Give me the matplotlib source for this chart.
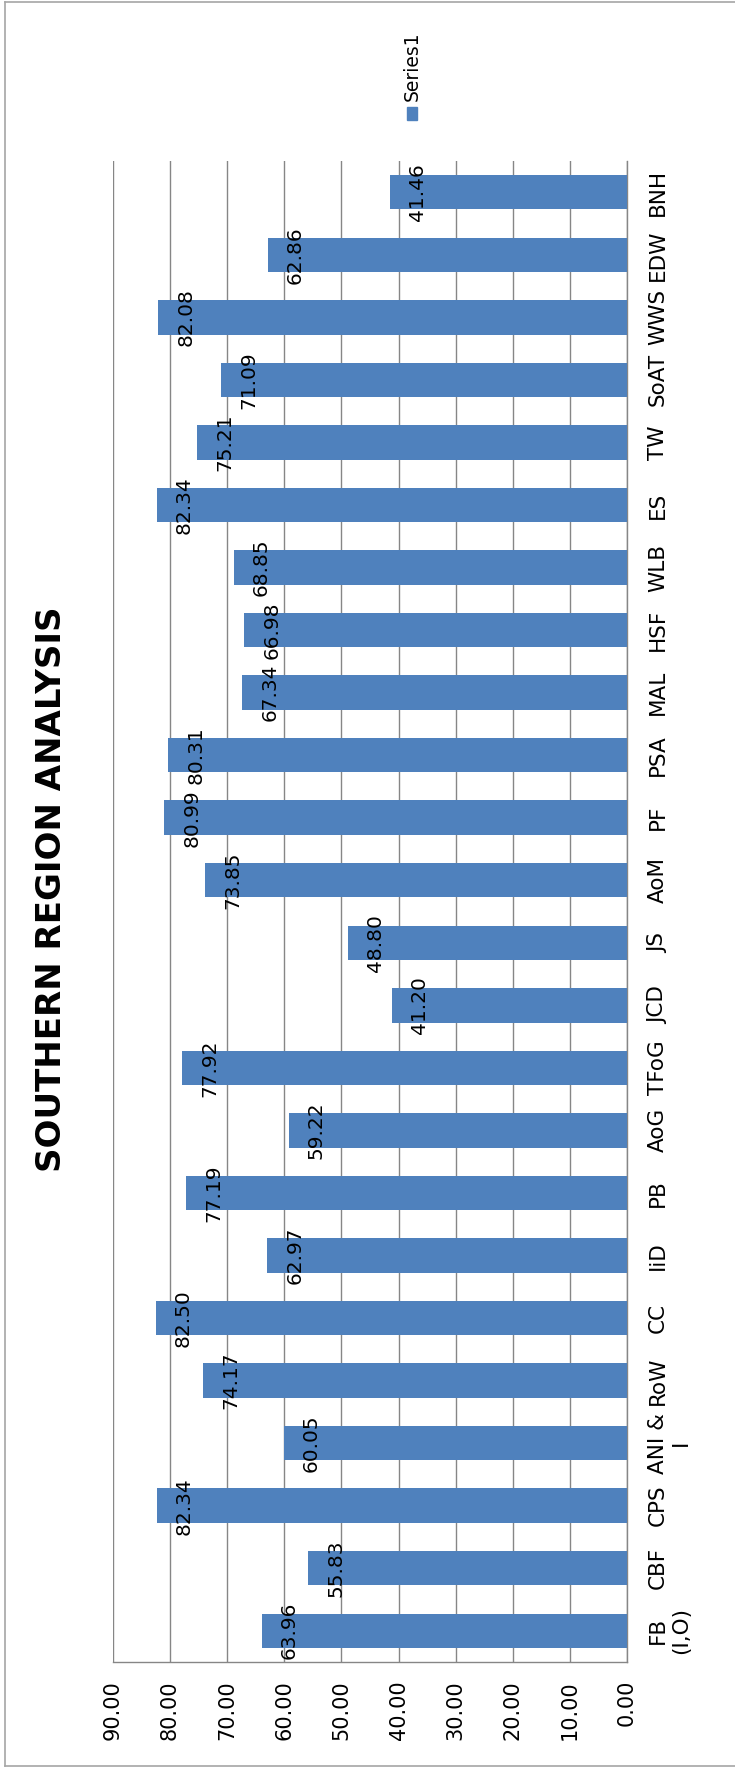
import matplotlib.pyplot as plt
from matplotlib.patches import Rectangle
from matplotlib.lines import Line2D

categories = ['FB\n(I,O)', 'CBF', 'CPS', 'ANI &\nI', 'RoW', 'CC', 'IiD', 'PB',
              'AoG', 'TFoG', 'JCD', 'JS', 'AoM', 'PF', 'PSA', 'MAL', 'HSF',
              'WLB', 'ES', 'TW', 'SoAT', 'WWS', 'EDW', 'BNH']
scores = [63.96, 55.83, 82.34, 60.05, 74.17, 82.50, 62.97, 77.19, 59.22,
          77.92, 41.20, 48.80, 73.85, 80.99, 80.31, 67.34, 66.98, 68.85,
          82.34, 75.21, 71.09, 82.08, 62.86, 41.46]
value_ticks = [0, 10, 20, 30, 40, 50, 60, 70, 80, 90]
series_name = 'Series1'
title = 'SOUTHERN REGION ANALYSIS'

BAR = '#4F81BD'
GRID = '#868686'
W, H = 735, 1769

plt.rcParams['font.family'] = ['DejaVu Sans']

fig = plt.figure(figsize=(W / 100, H / 100), dpi=100)
ax = fig.add_axes([113 / W, 1 - 1662 / H, (627 - 113) / W, (1662 - 161) / H])

pos = list(range(len(categories)))
ax.barh(pos, scores, height=0.55, color=BAR, zorder=3)

# data labels sit just inside the bar end, rotated like everything else
for i, v in zip(pos, scores):
    ax.text(v - 4.8, i, f'{v:.2f}', rotation=90, ha='center', va='center',
            fontsize=14.5, color='black', zorder=4)

ax.set_xlim(90, 0)
ax.set_ylim(-0.5, len(categories) - 0.5)
ax.set_xticks(value_ticks)
ax.set_xticklabels([f'{t:.2f}' for t in value_ticks], rotation=90,
                   ha='center', va='top', fontsize=15)
ax.yaxis.tick_right()
ax.set_yticks(pos)
ax.set_yticklabels(categories, rotation=90, ha='left', va='center',
                   multialignment='center', fontsize=15.5)
ax.tick_params(axis='x', length=0, pad=13)
ax.tick_params(axis='y', length=0, pad=15)

ax.grid(axis='x', color=GRID, linewidth=1, zorder=0)
for s in ['top', 'left']:
    ax.spines[s].set_visible(False)
for s in ['right', 'bottom']:
    ax.spines[s].set_color(GRID)
    ax.spines[s].set_linewidth(1)

fig.text(52 / W, 1 - 889 / H, title, rotation=90, ha='center', va='center',
         fontsize=24.5, fontweight='bold')

# legend drawn by hand so it can be rotated with the chart
fig.patches.append(Rectangle((407 / W, 1 - 120 / H), 10 / W, 13 / H,
                             transform=fig.transFigure, color=BAR))
fig.text(412 / W, 1 - 101 / H, series_name, rotation=90, ha='center',
         va='bottom', fontsize=13.5)

# outer chart border (right edge is cut off in the reference)
for xs, ys in [([5, 5], [2, 1766]), ([5, W], [2, 2]), ([5, W], [1766, 1766])]:
    fig.lines.append(Line2D([x / W for x in xs], [1 - y / H for y in ys],
                            transform=fig.transFigure, color='#a6a6a6',
                            linewidth=1.2))

fig.savefig('out.png', dpi=100, facecolor='white')
